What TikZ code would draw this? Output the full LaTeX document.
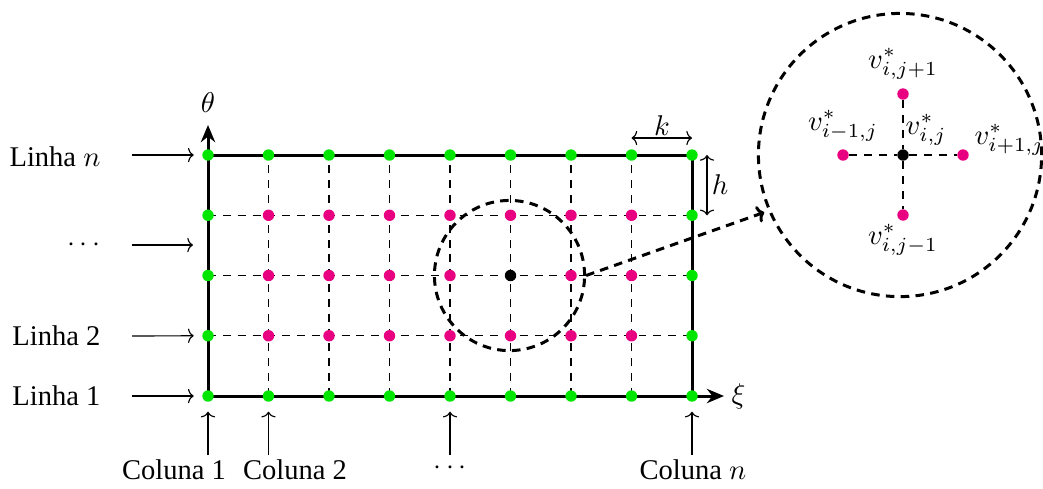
\documentclass[tikz,border=0pt]{standalone}
\usepackage[no-math]{fontspec}
\setmainfont{Liberation Serif}
\usetikzlibrary{arrows.meta,calc}
\definecolor{ptgreen}{RGB}{0,230,0}
\definecolor{ptmag}{RGB}{232,0,128}
\tikzset{
  dotg/.style={circle,fill=ptgreen,inner sep=0pt,minimum size=4pt},
  dotm/.style={circle,fill=ptmag,inner sep=0pt,minimum size=4pt},
  dotk/.style={circle,fill=black,inner sep=0pt,minimum size=4pt},
  gridl/.style={line width=0.4pt,dash pattern=on 2.8pt off 2.4pt},
  bound/.style={line width=1.05pt},
  axis/.style={line width=1.05pt,-{Stealth[length=6pt,width=5pt]}},
  lbl/.style={-{To[length=2pt,width=5pt]},line width=0.4pt},
  zoomc/.style={circle,draw,line width=1.05pt,dash pattern=on 3pt off 2.2pt,inner sep=0pt},
  txt/.style={inner sep=0pt,font=\normalsize}
}
\begin{document}
\begin{tikzpicture}[x=0.3503pt,y=-0.3503pt]
\useasboundingbox (0,0) rectangle (1043,488);
% grid coordinates
\foreach \i in {0,...,8}{
  \foreach \j in {0,...,4}{
    \coordinate (p\i-\j) at ({208+60.5*\i},{396-60.25*\j});
  }
}
% dashed interior lines
\foreach \i in {1,...,7}{ \draw[gridl] (p\i-0) -- (p\i-4); }
\foreach \j in {1,...,3}{ \draw[gridl] (p0-\j) -- (p8-\j); }
% boundary
\coordinate (thetaend) at (208,125);
\coordinate (xiend) at (724,396);
\draw[axis] (p0-0) -- (thetaend);
\draw[axis] (p0-0) -- (xiend);
\draw[bound] (p0-4) -- (p8-4) -- (p8-0);
\node[txt] (theta) at (208,103) {$\theta$};
\node[txt,anchor=west] (xi) at (731,396) {$\xi$};
% dots
\foreach \i in {0,...,8}{
  \node[dotg] (d\i-0) at (p\i-0) {};
  \node[dotg] (d\i-4) at (p\i-4) {};
}
\foreach \j in {1,...,3}{
  \node[dotg] (d0-\j) at (p0-\j) {};
  \node[dotg] (d8-\j) at (p8-\j) {};
}
\foreach \i in {1,...,7}{
  \foreach \j in {1,...,3}{
    \ifnum\i=5 \ifnum\j=2 \else \node[dotm] (d\i-\j) at (p\i-\j) {}; \fi
    \else \node[dotm] (d\i-\j) at (p\i-\j) {}; \fi
  }
}
\node[dotk] (d5-2) at (p5-2) {};
% k and h
\coordinate (ka) at (631.5,138);
\coordinate (kb) at (692,138);
\draw[{To[length=2pt,width=5pt]}-{To[length=2pt,width=5pt]},line width=0.4pt] (ka) -- (kb);
\node[txt] (k) at (662,126) {$k$};
\coordinate (ha) at (707,155);
\coordinate (hb) at (707,215.25);
\draw[{To[length=2pt,width=5pt]}-{To[length=2pt,width=5pt]},line width=0.4pt] (ha) -- (hb);
\node[txt] (h) at (720,185) {$h$};
% row labels
\node[txt,anchor=east] (ln) at (101,157) {Linha $n$};
\node[txt,anchor=east] (ld) at (101,245) {$\cdots$};
\node[txt,anchor=east] (l2) at (101,336) {Linha 2};
\node[txt,anchor=east] (l1) at (101,396) {Linha 1};
\coordinate (rs0) at (132,396);
\coordinate (rs1) at (132,336);
\coordinate (rsd) at (132,245);
\coordinate (rsd2) at (193,245);
\coordinate (rs4) at (132,155);
\draw[lbl] (rs0) -- ([xshift=-5pt]d0-0.center);
\draw[lbl] (rs1) -- ([xshift=-5pt]d0-1.center);
\draw[lbl] (rsd) -- (rsd2);
\draw[lbl] (rs4) -- ([xshift=-5pt]d0-4.center);
% column labels
\node[txt] (c1) at (174,470) {Coluna 1};
\node[txt] (c2) at (295,470) {Coluna 2};
\node[txt] (cd) at (450,468) {$\cdots$};
\node[txt] (cn) at (693,470) {Coluna $n$};
\foreach \i in {0,1,4,8}{
  \coordinate (cs\i) at ({208+60.5*\i},455);
  \draw[lbl] (cs\i) -- ([yshift=-5.5pt]d\i-0.center);
}
% zoom circles
\node[zoomc,minimum size=52.6pt] (zs) at (509.5,275.5) {};
\node[zoomc,minimum size=99.2pt] (zb) at (900,155) {};
\draw[line width=1.05pt,dash pattern=on 3pt off 2.2pt,-{To[length=2.5pt,width=6pt]},shorten >=1.5pt] (zs.east) -- (zb.203);
% zoomed stencil
\node[dotk] (s0) at (903,155) {};
\node[dotm] (sw) at (843,155) {};
\node[dotm] (se) at (963,155) {};
\node[dotm] (sn) at (903,94) {};
\node[dotm] (ss) at (903,215) {};
\draw[gridl] (sw) -- (s0) -- (se);
\draw[gridl] (sn) -- (s0) -- (ss);
\node[txt] (vn) at (903,64) {$v^*_{i,j+1}$};
\node[txt] (vw) at (843,126) {$v^*_{i-1,j}$};
\node[txt] (vc) at (926,130) {$v^*_{i,j}$};
\node[txt,anchor=west] (ve) at (974,140) {$v^*_{i+1,j}$};
\node[txt] (vs) at (903,240) {$v^*_{i,j-1}$};
\end{tikzpicture}
\end{document}
